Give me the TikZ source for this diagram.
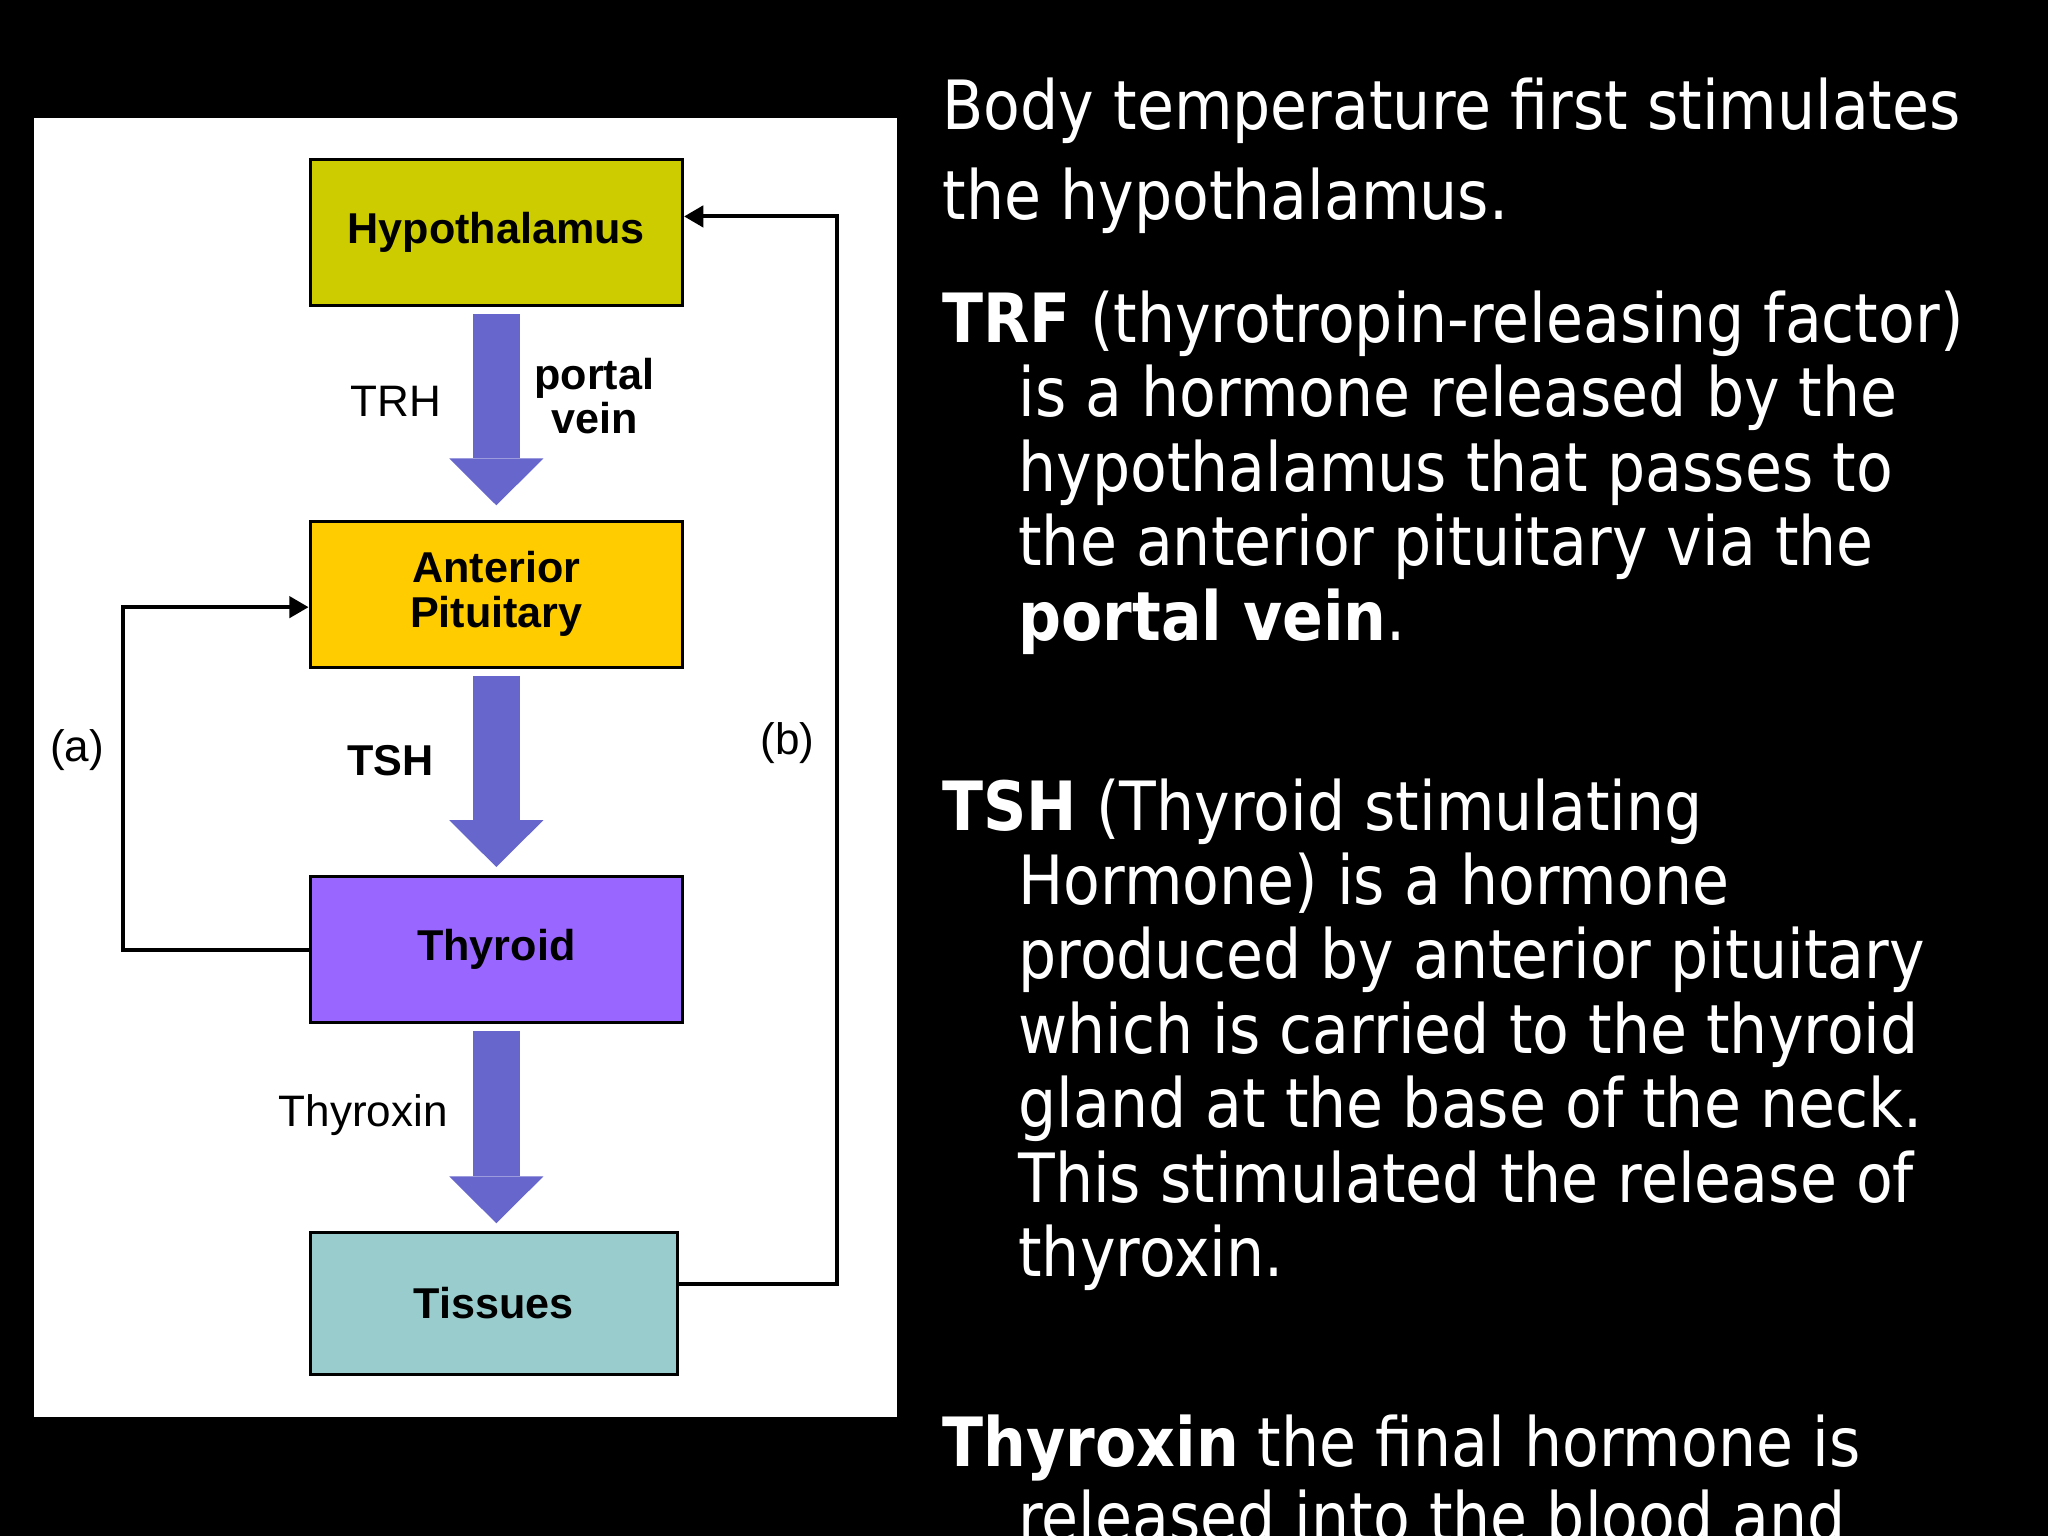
\documentclass[tikz,border=0pt]{standalone}
\usepackage{fontspec}
\setmainfont{Liberation Sans}
\newfontfamily\slidefont[FakeStretch=0.885]{DejaVu Sans}
\usetikzlibrary{arrows.meta}
\definecolor{hypo}{HTML}{CCCC00}
\definecolor{pit}{HTML}{FFCC00}
\definecolor{thyr}{HTML}{9966FF}
\definecolor{tiss}{HTML}{99CCCC}
\definecolor{flowc}{HTML}{6666CC}
\tikzset{
  gland/.style={draw=black, line width=0.7pt, minimum width=28.5mm, minimum height=11.2mm,
    inner sep=0pt, align=center, font=\fontsize{9.4}{9.8}\selectfont\bfseries},
  hormone/.style={flowc, line width=10.2pt, -{Triangle[length=10.2pt, width=20.5pt, line width=0pt]},
    shorten <=1.5pt, shorten >=1.7pt},
  fback/.style={black, line width=0.9pt, -{Triangle[length=4.2pt, width=4.6pt]}},
  lbl/.style={inner sep=0pt, align=center, font=\fontsize{9.6}{9.6}\selectfont},
  lblb/.style={lbl, font=\fontsize{9.4}{9.6}\selectfont\bfseries},
  slidetext/.style={anchor=base west, inner sep=0pt, text=white, font=\slidefont\fontsize{14.8}{16.1}\selectfont}
}

\begin{document}
\begin{tikzpicture}[x=0.1mm, y=-0.1mm]
  \useasboundingbox (0,0) rectangle (1568,1176);
  \fill[black] (0,0) rectangle (1568,1176);
  \fill[white] (26,90) rectangle (687,1085);

  \node[gland, fill=hypo] (hyp) at (380,178) {Hypothalamus};
  \node[gland, fill=pit]  (pit) at (380,455) {Anterior\\Pituitary};
  \node[gland, fill=thyr] (thy) at (380,727) {Thyroid};
  \node[gland, fill=tiss, minimum width=28.1mm, minimum height=10.85mm] (tis) at (378,998) {Tissues};

  \draw[hormone, shorten >=3.1pt] (hyp.south) -- (pit.north);
  \draw[hormone] (pit.south) -- (thy.north);
  \draw[hormone] (thy.south) -- (thy.south |- tis.north);
  \draw[fback] (thy.west) -- ++(-142,0) |- ([yshift=-2.8pt]pit.west);
  \draw[fback] ([yshift=4.3pt]tis.east) -- ++(121,0) |- ([yshift=3.5pt]hyp.east);

  \node[lbl]  (trh)  at (303,307) {TRH};
  \node[lblb] (vein) at (455,303) {portal\\vein};
  \node[lblb] (tsh)  at (299,582) {TSH};
  \node[lbl]  (thx)  at (278,854) {Thyroxin};
  \node[lbl]  (la)   at (59,574)  {(a)};
  \node[lbl]  (lb)   at (603,569) {(b)};

  \node[slidetext] (body1) at (721,99.5)  {Body temperature first stimulates};
  \node[slidetext] (body2) at (721,167.9) {the hypothalamus.};
  \node[slidetext] (trf1)  at (721,262)   {\textbf{TRF} (thyrotropin-releasing factor)};
  \node[slidetext] (trf2)  at (779,319)   {is a hormone released by the};
  \node[slidetext] (trf3)  at (779,376)   {hypothalamus that passes to};
  \node[slidetext] (trf4)  at (779,433)   {the anterior pituitary via the};
  \node[slidetext] (trf5)  at (779,490)   {\textbf{portal vein}.};
  \node[slidetext] (tsh1)  at (721,635.5) {\textbf{TSH} (Thyroid stimulating};
  \node[slidetext] (tsh2)  at (779,692.5) {Hormone) is a hormone};
  \node[slidetext] (tsh3)  at (779,749.5) {produced by anterior pituitary};
  \node[slidetext] (tsh4)  at (779,806.5) {which is carried to the thyroid};
  \node[slidetext] (tsh5)  at (779,863.5) {gland at the base of the neck.};
  \node[slidetext] (tsh6)  at (779,920.5) {This stimulated the release of};
  \node[slidetext] (tsh7)  at (779,977.5) {thyroxin.};
  \node[slidetext] (thx1)  at (721,1123)  {\textbf{Thyroxin} the final hormone is};
  \node[slidetext] (thx2)  at (779,1180)  {released into the blood and};
\end{tikzpicture}
\end{document}
